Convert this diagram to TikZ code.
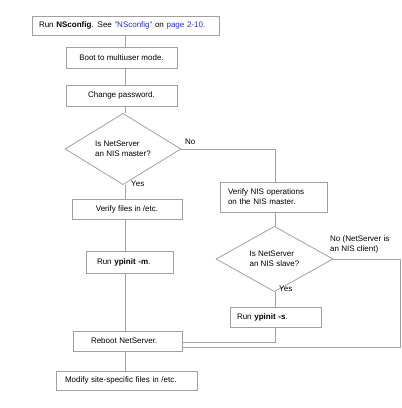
\documentclass[tikz,border=0pt]{standalone}
\usepackage{fontspec}
\setmainfont{Liberation Sans}
\usetikzlibrary{shapes.geometric}
\definecolor{lnk}{RGB}{40,40,210}
\definecolor{ln}{RGB}{160,160,160}
\begin{document}
\begin{tikzpicture}[x=1pt,y=-1pt,
  font=\fontsize{8}{10}\selectfont,
  box/.style={draw=ln,line width=0.8pt,rectangle,inner ysep=0pt,minimum height=20pt},
  lbox/.style={box,align=left},
  dia/.style={draw=ln,line width=0.8pt,diamond,inner sep=0pt,align=left},
  conn/.style={draw=ln,line width=0.8pt},
  lbl/.style={anchor=west,inner sep=0pt,align=left}]
\useasboundingbox (0,0) rectangle (402,408);
\node[lbox,inner xsep=7pt,text width=173pt,minimum height=19pt] (b1) at (125.5,25.5)
  {Run \textbf{NSconfig}. See \textcolor{lnk}{"NSconfig"} on \textcolor{lnk}{page 2-10.}};
\node[box,minimum width=111pt,minimum height=21pt] (b2) at (121.5,57.5) {Boot to multiuser mode.};
\node[box,minimum width=111pt,minimum height=21pt] (b3) at (121.5,95.5) {Change password.};
\node[dia,minimum width=116pt,minimum height=48pt] (d1) at (123,149) {Is NetServer\\an NIS master?};
\node[box,minimum width=110pt,minimum height=20pt] (vf) at (127,209) {Verify files in /etc.};
\node[lbox,inner xsep=11pt,text width=65pt,minimum height=22pt] (ym) at (129.5,262) {Run \textbf{ypinit -m}.};
\node[lbox,inner xsep=18pt,text width=73pt,minimum height=20pt] (rb) at (127.5,341) {Reboot NetServer.};
\node[lbox,inner xsep=9pt,text width=123pt,minimum height=19pt] (mf) at (126.5,380.5) {Modify site-specific files in /etc.};
\node[lbox,inner xsep=8pt,text width=91pt,minimum height=30pt] (vn) at (273.5,197) {Verify NIS operations\\on the NIS master.};
\node[dia,minimum width=117pt,minimum height=48pt] (d2) at (274.5,259) {Is NetServer\\an NIS slave?};
\node[lbox,inner xsep=7pt,text width=77pt,minimum height=20pt] (ys) at (275.5,317) {Run \textbf{ypinit -s}.};
\node[lbl] (no1) at (185,142) {No};
\node[lbl] (yes1) at (131,184) {Yes};
\node[lbl] (yes2) at (279,289) {Yes};
\node[lbl] (no2) at (330,244) {No (NetServer is\\an NIS client)};
\coordinate (cl) at (125,0);
\coordinate (cr) at (275,0);
\coordinate (rr) at (400,0);
\draw[conn] (b1.south -| cl) -- (b2.north -| cl);
\draw[conn] (b2.south -| cl) -- (b3.north -| cl);
\draw[conn] (b3.south -| cl) -- (d1.north -| cl);
\draw[conn] (d1.south -| cl) -- (vf.north -| cl);
\draw[conn] (vf.south -| cl) -- (ym.north -| cl);
\draw[conn] (ym.south -| cl) -- (rb.north -| cl);
\draw[conn] (rb.south -| cl) -- (mf.north -| cl);
\draw[conn] (d1.east) -- (d1.east -| cr) -- (vn.north -| cr);
\draw[conn] (vn.south -| cr) -- (d2.north -| cr);
\draw[conn] (d2.south -| cr) -- (ys.north -| cr);
\draw[conn] (ys.south -| cr) -- ++(0,15) coordinate (ysb) -- (ysb -| rb.east);
\draw[conn] (d2.east) -- (d2.east -| rr) -- ++(0,88) coordinate (rbr) -- (rbr -| rb.east);
\end{tikzpicture}
\end{document}
